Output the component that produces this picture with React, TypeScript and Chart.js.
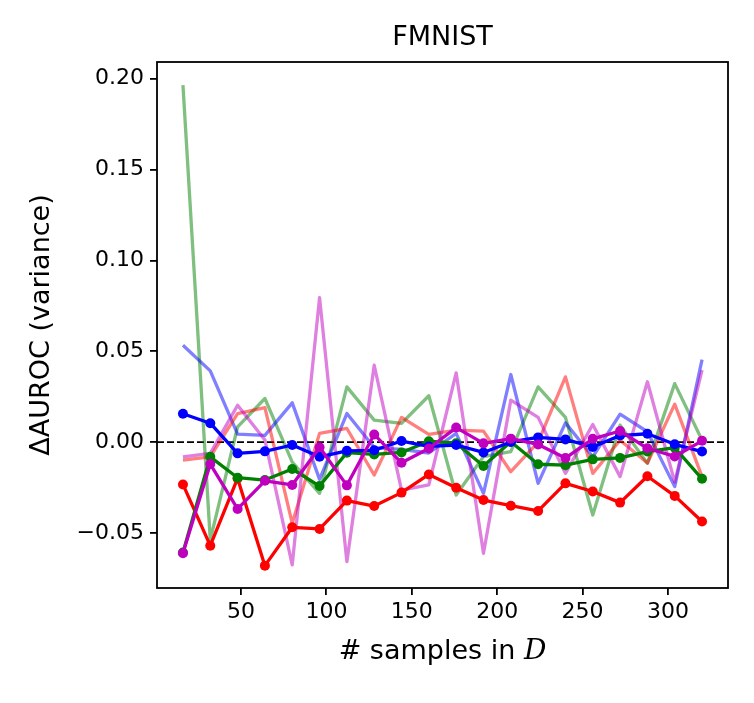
import React, { useEffect, useRef } from "react";
import { Chart, registerables } from "chart.js";

Chart.register(...registerables);

const SAMPLES = [16, 32, 48, 64, 80, 96, 112, 128, 144, 160, 176, 192, 208, 224, 240, 256, 272, 288, 304, 320];

// solid lines (with markers)
const RED_MEAN = [-0.0233, -0.057, -0.020, -0.068, -0.0469, -0.0478, -0.0322, -0.0352, -0.0278, -0.0178, -0.0251, -0.0319, -0.035, -0.0379, -0.0227, -0.0272, -0.0333, -0.0188, -0.0296, -0.0437];
const GREEN_MEAN = [-0.0608, -0.0081, -0.0196, -0.0209, -0.0148, -0.0242, -0.0058, -0.0068, -0.0057, 0.0005, -0.0006, -0.0132, 0.0002, -0.0122, -0.0127, -0.0095, -0.0087, -0.0052, -0.0031, -0.0202];
const BLUE_MEAN = [0.0156, 0.0104, -0.0062, -0.0051, -0.0016, -0.0081, -0.0048, -0.0045, 0.0006, -0.0024, -0.0016, -0.0057, 0.0001, 0.0026, 0.0015, -0.0027, 0.0036, 0.0046, -0.0012, -0.0052];
const MAGENTA_MEAN = [-0.0612, -0.0121, -0.0368, -0.0213, -0.0236, -0.0028, -0.0238, 0.0042, -0.0114, -0.0035, 0.008, -0.0007, 0.0019, -0.0013, -0.0088, 0.0018, 0.0061, -0.0034, -0.0079, 0.0007];

// faint lines (alpha 0.5, no markers)
const GREEN_FAINT = [0.1965, -0.0538, 0.0084, 0.024, -0.011, -0.0282, 0.0304, 0.0121, 0.0103, 0.0255, -0.0291, -0.008, -0.0053, 0.0304, 0.0136, -0.0401, 0.0093, -0.0117, 0.0322, 0.0011];
const BLUE_FAINT = [0.0533, 0.0392, 0.0044, 0.0037, 0.0216, -0.0205, 0.0157, -0.003, -0.004, -0.006, 0.0048, -0.0282, 0.0372, -0.0227, 0.0106, -0.0081, 0.0154, 0.0057, -0.0245, 0.0454];
const RED_FAINT = [-0.0099, -0.0081, 0.0157, 0.019, -0.0447, 0.0048, 0.0075, -0.0181, 0.0136, 0.0042, 0.0066, 0.006, -0.0163, 0.0, 0.0359, -0.0172, 0.001, -0.0115, 0.0209, -0.019];
const MAGENTA_FAINT = [-0.0081, -0.0062, 0.0203, 0.0011, -0.0676, 0.0795, -0.0658, 0.0423, -0.0264, -0.0236, 0.0381, -0.0612, 0.0231, 0.0136, -0.0172, 0.0097, -0.019, 0.0332, -0.022, 0.0396];

const Y_TICKS = [-0.05, 0, 0.05, 0.1, 0.15, 0.2];
const Y_TICK_LABELS = ["\u22120.05", "0.00", "0.05", "0.10", "0.15", "0.20"];
const X_TICKS = [50, 100, 150, 200, 250, 300];
const X_TICK_LABELS = ["50", "100", "150", "200", "250", "300"];

const TITLE = "FMNIST";
const Y_LABEL = "\u0394AUROC (variance)";
const X_LABEL_MAIN = "# samples in ";
const X_LABEL_SYMBOL = "D";

const FONT = "'DejaVu Sans', sans-serif";

export default function App() {
  const ref = useRef<HTMLCanvasElement>(null);

  useEffect(() => {
    document.body.style.margin = "0";
    const canvas = ref.current;
    if (!canvas) return;

    const pts = (vals: number[]) => SAMPLES.map((x, i) => ({ x, y: vals[i] }));
    const solid = (label: string, vals: number[], color: string, order: number) => ({
      label,
      data: pts(vals),
      borderColor: color,
      backgroundColor: color,
      borderWidth: 3.3,
      pointRadius: 5,
      pointHoverRadius: 5,
      pointBorderWidth: 0,
      pointBackgroundColor: color,
      borderJoinStyle: "round" as const,
      tension: 0,
      order,
    });
    const faint = (label: string, vals: number[], color: string, order: number) => ({
      label,
      data: pts(vals),
      borderColor: color,
      backgroundColor: color,
      borderWidth: 3.3,
      pointRadius: 0,
      pointHoverRadius: 0,
      borderJoinStyle: "round" as const,
      tension: 0,
      order,
    });

    const decorations = {
      id: "decorations",
      beforeDatasetsDraw(chart: any) {
        const { ctx, chartArea, scales } = chart;
        const y0 = scales.y.getPixelForValue(0);
        ctx.save();
        ctx.strokeStyle = "#000";
        ctx.lineWidth = 1.6;
        ctx.setLineDash([7, 3]);
        ctx.beginPath();
        ctx.moveTo(chartArea.left, y0);
        ctx.lineTo(chartArea.right, y0);
        ctx.stroke();
        ctx.restore();
      },
      afterDraw(chart: any) {
        const { ctx, chartArea } = chart;
        ctx.save();
        ctx.strokeStyle = "#000";
        ctx.lineWidth = 1.8;
        ctx.strokeRect(chartArea.left, chartArea.top, chartArea.right - chartArea.left, chartArea.bottom - chartArea.top);

        const cx = (chartArea.left + chartArea.right) / 2;
        ctx.fillStyle = "#000";
        ctx.textAlign = "center";
        ctx.textBaseline = "middle";
        ctx.font = `27px ${FONT}`;
        ctx.fillText(TITLE, cx, 38);

        // x label
        ctx.font = `27px ${FONT}`;
        const wMain = ctx.measureText(X_LABEL_MAIN).width;
        ctx.font = `italic 28px 'DejaVu Serif', serif`;
        const wSym = ctx.measureText(X_LABEL_SYMBOL).width;
        const startX = cx - (wMain + wSym) / 2;
        ctx.textAlign = "left";
        ctx.textBaseline = "alphabetic";
        ctx.font = `27px ${FONT}`;
        ctx.fillText(X_LABEL_MAIN, startX, 659);
        ctx.font = `italic 28px 'DejaVu Serif', serif`;
        ctx.fillText(X_LABEL_SYMBOL, startX + wMain, 659);

        // y label
        ctx.translate(42, (chartArea.top + chartArea.bottom) / 2);
        ctx.rotate(-Math.PI / 2);
        ctx.textAlign = "center";
        ctx.textBaseline = "middle";
        ctx.font = `27px ${FONT}`;
        ctx.fillText(Y_LABEL, 0, 0);
        ctx.restore();
      },
    };

    const tickFont = { family: FONT, size: 22 };

    const chart = new Chart(canvas, {
      type: "line",
      data: {
        datasets: [
          faint("green faint", GREEN_FAINT, "rgba(0,128,0,0.5)", 8),
          faint("blue faint", BLUE_FAINT, "rgba(0,0,255,0.5)", 7),
          faint("red faint", RED_FAINT, "rgba(255,0,0,0.5)", 6),
          faint("magenta faint", MAGENTA_FAINT, "rgba(191,0,191,0.5)", 5),
          solid("red", RED_MEAN, "#ff0000", 3),
          solid("green", GREEN_MEAN, "#008000", 2),
          solid("blue", BLUE_MEAN, "#0000ff", 1),
          solid("magenta", MAGENTA_MEAN, "#bf00bf", 0),
        ] as any,
      },
      options: {
        animation: false,
        responsive: false,
        devicePixelRatio: 1,
        layout: { padding: { top: 62, right: 26, left: 0, bottom: 0 } },
        plugins: {
          legend: { display: false },
          tooltip: { enabled: false },
          title: { display: false },
        },
        events: [],
        scales: {
          x: {
            type: "linear",
            min: 0.8,
            max: 335.2,
            afterFit: (s: any) => {
              s.height = 115;
            },
            afterBuildTicks: (s: any) => {
              s.ticks = X_TICKS.map((v) => ({ value: v }));
            },
            ticks: {
              callback: (v: any) => {
                const i = X_TICKS.indexOf(Number(v));
                return i >= 0 ? X_TICK_LABELS[i] : "";
              },
              font: tickFont,
              color: "#000",
              padding: 4,
              maxRotation: 0,
              autoSkip: false,
            },
            grid: { display: true, drawOnChartArea: false, drawTicks: true, tickLength: 7, color: "#000", lineWidth: 1.8 },
            border: { display: false },
          },
          y: {
            type: "linear",
            min: -0.0803,
            max: 0.2092,
            afterFit: (s: any) => {
              s.width = 157;
            },
            afterBuildTicks: (s: any) => {
              s.ticks = Y_TICKS.map((v) => ({ value: v }));
            },
            ticks: {
              callback: (v: any) => {
                const i = Y_TICKS.findIndex((t) => Math.abs(t - Number(v)) < 1e-9);
                return i >= 0 ? Y_TICK_LABELS[i] : "";
              },
              font: tickFont,
              color: "#000",
              padding: 6,
              autoSkip: false,
            },
            grid: { display: true, drawOnChartArea: false, drawTicks: true, tickLength: 7, color: "#000", lineWidth: 1.8 },
            border: { display: false },
          },
        },
      } as any,
      plugins: [decorations],
    });

    return () => chart.destroy();
  }, []);

  return (
    <div style={{ position: "absolute", left: 0, top: 0, width: 754, height: 703, background: "#fff" }}>
      <canvas ref={ref} width={754} height={703} style={{ display: "block" }} />
    </div>
  );
}
